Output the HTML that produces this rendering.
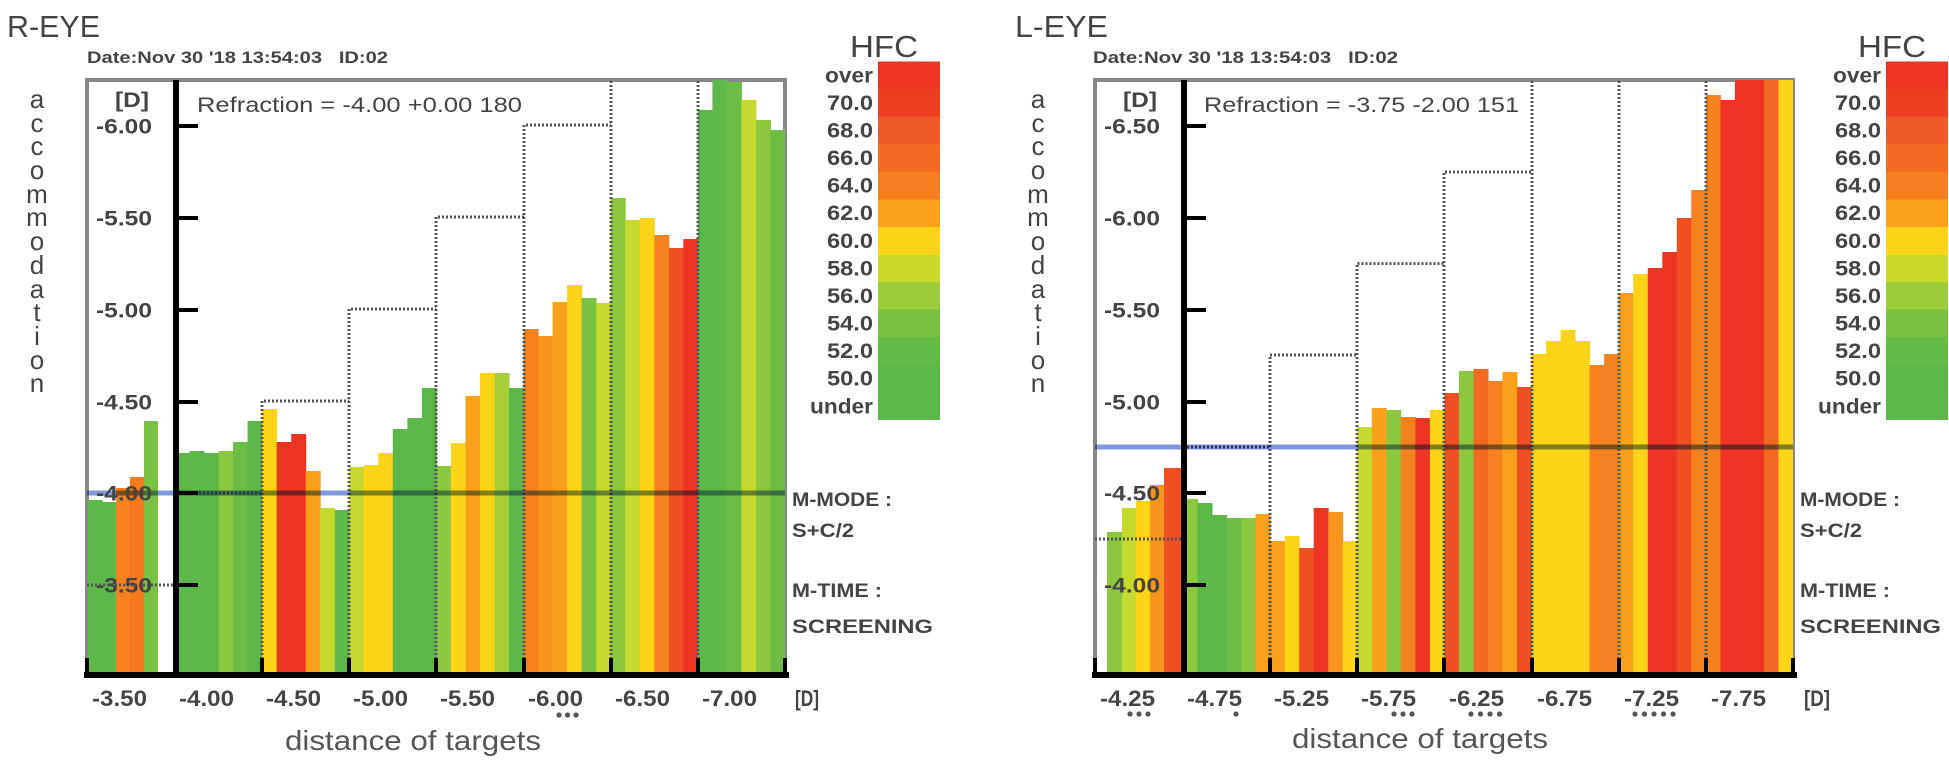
<!DOCTYPE html>
<html><head><meta charset="utf-8"><style>
html,body{margin:0;padding:0;background:#fff;}
svg{display:block;}
text{font-family:"Liberation Sans",Arial,sans-serif;fill:#444;}
.b{font-weight:bold;}
.dot{stroke:#555;stroke-width:3;stroke-dasharray:2 2;fill:none;}
.blue{stroke:#8197de;stroke-width:5;mix-blend-mode:multiply;}
</style></head><body>
<svg width="1949" height="764" viewBox="0 0 1949 764" xmlns="http://www.w3.org/2000/svg">
<rect width="1949" height="764" fill="#fff"/>

<!-- ================= R-EYE ================= -->
<g>
<text x="7" y="37" font-size="31" textLength="93" lengthAdjust="spacingAndGlyphs">R-EYE</text>
<text x="87" y="63" font-size="17" class="b" textLength="301" lengthAdjust="spacingAndGlyphs">Date:Nov 30 '18 13:54:03&#160;&#160;&#160;ID:02</text>
<g font-size="26" text-anchor="middle">
<text x="37" y="108">a</text><text x="37" y="132">c</text><text x="37" y="155">c</text><text x="37" y="179">o</text><text x="37" y="203">m</text><text x="37" y="226">m</text><text x="37" y="250">o</text><text x="37" y="274">d</text><text x="37" y="298">a</text><text x="37" y="321">t</text><text x="37" y="345">i</text><text x="37" y="369">o</text><text x="37" y="392">n</text>
</g>
<rect x="87" y="80" width="698" height="595" fill="none" stroke="#888" stroke-width="4"/>
<!-- bars -->
<rect x="88" y="500" width="14.5" height="173" fill="#5cb848"/>
<rect x="102" y="502" width="14.5" height="171" fill="#5cb848"/>
<rect x="116" y="488" width="14.5" height="185" fill="#f58220"/>
<rect x="130" y="477" width="14.5" height="196" fill="#f47a20"/>
<rect x="144" y="421" width="14" height="252" fill="#7ac143"/>

<rect x="175" y="453" width="15" height="220" fill="#5cb848"/>
<rect x="189.5" y="451" width="15" height="222" fill="#5cb848"/>
<rect x="204" y="453" width="15" height="220" fill="#5cb848"/>
<rect x="218.6" y="451" width="15" height="222" fill="#8dc63f"/>
<rect x="233.1" y="442" width="15" height="231" fill="#6cbd45"/>
<rect x="247.6" y="421" width="15" height="252" fill="#5cb848"/>

<rect x="262.1" y="409" width="15" height="264" fill="#fdd417"/>
<rect x="276.7" y="442" width="15" height="231" fill="#ee3524"/>
<rect x="291.2" y="434" width="15" height="239" fill="#ee3524"/>
<rect x="305.7" y="471" width="15" height="202" fill="#f9a11b"/>
<rect x="320.2" y="508" width="15" height="165" fill="#c5d92e"/>
<rect x="334.8" y="510" width="15" height="163" fill="#5cb848"/>

<rect x="349.3" y="467" width="15" height="206" fill="#c5d92e"/>
<rect x="363.8" y="465" width="15" height="208" fill="#fdd417"/>
<rect x="378.3" y="453" width="15" height="220" fill="#fdd417"/>
<rect x="392.8" y="429" width="15" height="244" fill="#5cb848"/>
<rect x="407.4" y="418" width="15" height="255" fill="#5cb848"/>
<rect x="421.9" y="388" width="15" height="285" fill="#5cb848"/>

<rect x="436.4" y="466" width="15" height="207" fill="#8dc63f"/>
<rect x="450.9" y="443" width="15" height="230" fill="#fdd417"/>
<rect x="465.5" y="396" width="15" height="277" fill="#f9a11b"/>
<rect x="480" y="373" width="15" height="300" fill="#fdd417"/>
<rect x="494.5" y="373" width="15" height="300" fill="#a8cf3a"/>
<rect x="509" y="388" width="15" height="285" fill="#5cb848"/>

<rect x="523.6" y="329" width="15" height="344" fill="#f58220"/>
<rect x="538.1" y="336" width="15" height="337" fill="#f7941d"/>
<rect x="552.6" y="302" width="15" height="371" fill="#f9a11b"/>
<rect x="567.1" y="285" width="15" height="388" fill="#fdd417"/>
<rect x="581.6" y="298" width="15" height="375" fill="#7ac143"/>
<rect x="596.2" y="303" width="15" height="370" fill="#c5d92e"/>

<rect x="610.7" y="198" width="15" height="475" fill="#8dc63f"/>
<rect x="625.2" y="220" width="15" height="453" fill="#c5d92e"/>
<rect x="639.8" y="218" width="15" height="455" fill="#fdd417"/>
<rect x="654.3" y="235" width="15" height="438" fill="#f58220"/>
<rect x="668.8" y="248" width="15" height="425" fill="#f04e23"/>
<rect x="683.3" y="239" width="15" height="434" fill="#ee3524"/>

<rect x="697.9" y="110" width="15" height="563" fill="#5cb848"/>
<rect x="712.4" y="80" width="15" height="593" fill="#5cb848"/>
<rect x="726.9" y="82" width="15" height="591" fill="#6cbd45"/>
<rect x="741.4" y="100" width="15" height="573" fill="#c5d92e"/>
<rect x="756" y="120" width="15" height="553" fill="#8dc63f"/>
<rect x="770.5" y="130" width="14.5" height="543" fill="#6cbd45"/>

<!-- dotted step lines -->
<path class="dot" d="M87 585H175 M175 493H262 M262 675V401H349 M349 675V309H436 M436 675V217H524 M524 675V125H611 M611 675V80 M698 675V80"/>
<!-- blue line -->
<line class="blue" x1="87" y1="493" x2="785" y2="493"/>
<!-- axes -->
<line x1="176" y1="80" x2="176" y2="678" stroke="#000" stroke-width="6"/>
<line x1="84" y1="675" x2="789" y2="675" stroke="#000" stroke-width="6"/>
<path d="M176 126H198 M176 218H198 M176 310H198 M176 402H198 M176 493H198 M176 585H198" stroke="#000" stroke-width="4"/>
<path d="M87 658V675 M262 658V675 M349 658V675 M436 658V675 M524 658V675 M611 658V675 M698 658V675 M785 658V675" stroke="#000" stroke-width="4"/>
<!-- y labels -->
<g font-size="21" class="b" text-anchor="end">
<text x="149" y="107" textLength="34" lengthAdjust="spacingAndGlyphs">[D]</text>
<text x="152" y="133.5" textLength="56" lengthAdjust="spacingAndGlyphs">-6.00</text>
<text x="152" y="225.5" textLength="56" lengthAdjust="spacingAndGlyphs">-5.50</text>
<text x="152" y="317.5" textLength="56" lengthAdjust="spacingAndGlyphs">-5.00</text>
<text x="152" y="409.5" textLength="56" lengthAdjust="spacingAndGlyphs">-4.50</text>
<text x="152" y="500.5" textLength="56" lengthAdjust="spacingAndGlyphs">-4.00</text>
<text x="152" y="592.5" textLength="56" lengthAdjust="spacingAndGlyphs">-3.50</text>
</g>
<text x="197" y="112" font-size="21" textLength="325" lengthAdjust="spacingAndGlyphs">Refraction = -4.00 +0.00 180</text>
<!-- x labels -->
<g font-size="22" class="b">
<text x="92" y="706" textLength="55" lengthAdjust="spacingAndGlyphs">-3.50</text>
<text x="179" y="706" textLength="55" lengthAdjust="spacingAndGlyphs">-4.00</text>
<text x="266" y="706" textLength="55" lengthAdjust="spacingAndGlyphs">-4.50</text>
<text x="353" y="706" textLength="55" lengthAdjust="spacingAndGlyphs">-5.00</text>
<text x="440" y="706" textLength="55" lengthAdjust="spacingAndGlyphs">-5.50</text>
<text x="528" y="706" textLength="55" lengthAdjust="spacingAndGlyphs">-6.00</text>
<text x="615" y="706" textLength="55" lengthAdjust="spacingAndGlyphs">-6.50</text>
<text x="702" y="706" textLength="55" lengthAdjust="spacingAndGlyphs">-7.00</text>
<text x="795" y="706" textLength="24" lengthAdjust="spacingAndGlyphs">[D]</text>
</g>
<g fill="#555"><circle cx="559" cy="715" r="2.6"/><circle cx="567.5" cy="715" r="2.6"/><circle cx="576" cy="715" r="2.6"/></g>
<text x="413" y="750" font-size="28" text-anchor="middle" textLength="256" lengthAdjust="spacingAndGlyphs" style="fill:#555">distance of targets</text>
<!-- legend -->
<text x="850" y="57" font-size="31" textLength="68" lengthAdjust="spacingAndGlyphs">HFC</text>
<rect x="878" y="61.5" width="62" height="28" fill="#ee3524"/>
<rect x="878" y="89.1" width="62" height="28" fill="#ef3f23"/>
<rect x="878" y="116.7" width="62" height="28" fill="#f05a28"/>
<rect x="878" y="144.2" width="62" height="28" fill="#f26a21"/>
<rect x="878" y="171.8" width="62" height="28" fill="#f47f20"/>
<rect x="878" y="199.4" width="62" height="28" fill="#f9a11b"/>
<rect x="878" y="227" width="62" height="28" fill="#fdd417"/>
<rect x="878" y="254.6" width="62" height="28" fill="#cbdb2a"/>
<rect x="878" y="282.1" width="62" height="28" fill="#9ccb3b"/>
<rect x="878" y="309.7" width="62" height="28" fill="#7ac143"/>
<rect x="878" y="337.3" width="62" height="28" fill="#62bb46"/>
<rect x="878" y="364.9" width="62" height="28" fill="#5ab946"/>
<rect x="878" y="392.5" width="62" height="27.5" fill="#5cb848"/>
<g font-size="21" class="b" text-anchor="end">
<text x="873" y="82.3" textLength="48" lengthAdjust="spacingAndGlyphs">over</text>
<text x="873" y="109.9" textLength="46" lengthAdjust="spacingAndGlyphs">70.0</text>
<text x="873" y="137.5" textLength="46" lengthAdjust="spacingAndGlyphs">68.0</text>
<text x="873" y="165" textLength="46" lengthAdjust="spacingAndGlyphs">66.0</text>
<text x="873" y="192.6" textLength="46" lengthAdjust="spacingAndGlyphs">64.0</text>
<text x="873" y="220.2" textLength="46" lengthAdjust="spacingAndGlyphs">62.0</text>
<text x="873" y="247.8" textLength="46" lengthAdjust="spacingAndGlyphs">60.0</text>
<text x="873" y="275.4" textLength="46" lengthAdjust="spacingAndGlyphs">58.0</text>
<text x="873" y="302.9" textLength="46" lengthAdjust="spacingAndGlyphs">56.0</text>
<text x="873" y="330.5" textLength="46" lengthAdjust="spacingAndGlyphs">54.0</text>
<text x="873" y="358.1" textLength="46" lengthAdjust="spacingAndGlyphs">52.0</text>
<text x="873" y="385.7" textLength="46" lengthAdjust="spacingAndGlyphs">50.0</text>
<text x="873" y="413.3" textLength="63" lengthAdjust="spacingAndGlyphs">under</text>
</g>
<g font-size="19" class="b">
<text x="792" y="506" textLength="100" lengthAdjust="spacingAndGlyphs">M-MODE :</text>
<text x="792" y="537" textLength="62" lengthAdjust="spacingAndGlyphs">S+C/2</text>
<text x="792" y="597" textLength="90" lengthAdjust="spacingAndGlyphs">M-TIME :</text>
<text x="792" y="633" textLength="141" lengthAdjust="spacingAndGlyphs">SCREENING</text>
</g>
</g>

<!-- ================= L-EYE ================= -->
<g transform="translate(1008,0)">
<text x="7" y="37" font-size="31" textLength="93" lengthAdjust="spacingAndGlyphs">L-EYE</text>
<text x="85" y="63" font-size="17" class="b" textLength="305" lengthAdjust="spacingAndGlyphs">Date:Nov 30 '18 13:54:03&#160;&#160;&#160;ID:02</text>
<g font-size="26" text-anchor="middle">
<text x="30" y="108">a</text><text x="30" y="132">c</text><text x="30" y="155">c</text><text x="30" y="179">o</text><text x="30" y="203">m</text><text x="30" y="226">m</text><text x="30" y="250">o</text><text x="30" y="274">d</text><text x="30" y="298">a</text><text x="30" y="321">t</text><text x="30" y="345">i</text><text x="30" y="369">o</text><text x="30" y="392">n</text>
</g>
<rect x="87" y="80" width="698" height="595" fill="none" stroke="#888" stroke-width="4"/>
<!-- bars -->
<rect x="99" y="532" width="15.5" height="141" fill="#8dc63f"/>
<rect x="114" y="508" width="14.5" height="165" fill="#c5d92e"/>
<rect x="128" y="501" width="14.5" height="172" fill="#fdd417"/>
<rect x="142" y="485" width="14.5" height="188" fill="#f7941d"/>
<rect x="156" y="468" width="17" height="205" fill="#f04e23"/>

<rect x="175" y="499" width="15" height="174" fill="#8dc63f"/>
<rect x="189.5" y="503" width="15" height="170" fill="#5cb848"/>
<rect x="204" y="515" width="15" height="158" fill="#5cb848"/>
<rect x="218.6" y="518" width="15" height="155" fill="#6cbd45"/>
<rect x="233.1" y="518" width="15" height="155" fill="#8dc63f"/>
<rect x="247.6" y="514" width="15" height="159" fill="#f9a11b"/>

<rect x="262.1" y="541" width="15" height="132" fill="#f9a11b"/>
<rect x="276.7" y="536" width="15" height="137" fill="#fdd417"/>
<rect x="291.2" y="548" width="15" height="125" fill="#f04e23"/>
<rect x="305.7" y="508" width="15" height="165" fill="#ee3524"/>
<rect x="320.2" y="512" width="15" height="161" fill="#f7941d"/>
<rect x="334.8" y="541" width="15" height="132" fill="#fdd417"/>

<rect x="349.3" y="427" width="15" height="246" fill="#c5d92e"/>
<rect x="363.8" y="408" width="15" height="265" fill="#f9a11b"/>
<rect x="378.3" y="410" width="15" height="263" fill="#8dc63f"/>
<rect x="392.8" y="417" width="15" height="256" fill="#f58220"/>
<rect x="407.4" y="418" width="15" height="255" fill="#ee3524"/>
<rect x="421.9" y="410" width="15" height="263" fill="#fdd417"/>

<rect x="436.4" y="393" width="15" height="280" fill="#f04e23"/>
<rect x="450.9" y="371" width="15" height="302" fill="#8dc63f"/>
<rect x="465.5" y="369" width="15" height="304" fill="#f26a21"/>
<rect x="480" y="381" width="15" height="292" fill="#f58220"/>
<rect x="494.5" y="372" width="15" height="301" fill="#f9a11b"/>
<rect x="509" y="387" width="15" height="286" fill="#f04e23"/>

<rect x="523.6" y="354" width="15" height="319" fill="#fdd417"/>
<rect x="538.1" y="341" width="15" height="332" fill="#fdd417"/>
<rect x="552.6" y="330" width="15" height="343" fill="#fdd417"/>
<rect x="567.1" y="341" width="15" height="332" fill="#fdd417"/>
<rect x="581.6" y="365" width="15" height="308" fill="#f58220"/>
<rect x="596.2" y="354" width="15" height="319" fill="#f58220"/>

<rect x="610.7" y="293" width="15" height="380" fill="#f9a11b"/>
<rect x="625.2" y="274" width="15" height="399" fill="#fdd417"/>
<rect x="639.8" y="268" width="15" height="405" fill="#ee3524"/>
<rect x="654.3" y="252" width="15" height="421" fill="#ee3524"/>
<rect x="668.8" y="218" width="15" height="455" fill="#f04e23"/>
<rect x="683.3" y="190" width="15" height="483" fill="#f58220"/>

<rect x="697.9" y="95" width="15" height="578" fill="#f58220"/>
<rect x="712.4" y="100" width="15" height="573" fill="#ee3524"/>
<rect x="726.9" y="80" width="15" height="593" fill="#ee3524"/>
<rect x="741.4" y="80" width="15" height="593" fill="#ee3524"/>
<rect x="756" y="80" width="15" height="593" fill="#f26a21"/>
<rect x="770.5" y="80" width="14.5" height="593" fill="#fdd417"/>

<path class="dot" d="M87 539H175 M175 447H262 M262 675V355H349 M349 675V263.5H436 M436 675V172H524 M524 675V80 M611 675V80 M698 675V80"/>
<line class="blue" x1="87" y1="447" x2="785" y2="447"/>
<line x1="176" y1="80" x2="176" y2="678" stroke="#000" stroke-width="6"/>
<line x1="84" y1="675" x2="789" y2="675" stroke="#000" stroke-width="6"/>
<path d="M176 126H198 M176 218H198 M176 310H198 M176 402H198 M176 493H198 M176 585H198" stroke="#000" stroke-width="4"/>
<path d="M87 658V675 M262 658V675 M349 658V675 M436 658V675 M524 658V675 M611 658V675 M698 658V675 M785 658V675" stroke="#000" stroke-width="4"/>
<g font-size="21" class="b" text-anchor="end">
<text x="149" y="107" textLength="34" lengthAdjust="spacingAndGlyphs">[D]</text>
<text x="152" y="133.5" textLength="56" lengthAdjust="spacingAndGlyphs">-6.50</text>
<text x="152" y="225.5" textLength="56" lengthAdjust="spacingAndGlyphs">-6.00</text>
<text x="152" y="317.5" textLength="56" lengthAdjust="spacingAndGlyphs">-5.50</text>
<text x="152" y="409.5" textLength="56" lengthAdjust="spacingAndGlyphs">-5.00</text>
<text x="152" y="500.5" textLength="56" lengthAdjust="spacingAndGlyphs">-4.50</text>
<text x="152" y="592.5" textLength="56" lengthAdjust="spacingAndGlyphs">-4.00</text>
</g>
<text x="196" y="112" font-size="21" textLength="315" lengthAdjust="spacingAndGlyphs">Refraction = -3.75 -2.00 151</text>
<g font-size="22" class="b">
<text x="92" y="706" textLength="55" lengthAdjust="spacingAndGlyphs">-4.25</text>
<text x="179" y="706" textLength="55" lengthAdjust="spacingAndGlyphs">-4.75</text>
<text x="266" y="706" textLength="55" lengthAdjust="spacingAndGlyphs">-5.25</text>
<text x="353" y="706" textLength="55" lengthAdjust="spacingAndGlyphs">-5.75</text>
<text x="441" y="706" textLength="55" lengthAdjust="spacingAndGlyphs">-6.25</text>
<text x="529" y="706" textLength="55" lengthAdjust="spacingAndGlyphs">-6.75</text>
<text x="616" y="706" textLength="55" lengthAdjust="spacingAndGlyphs">-7.25</text>
<text x="703" y="706" textLength="55" lengthAdjust="spacingAndGlyphs">-7.75</text>
<text x="796" y="706" textLength="26" lengthAdjust="spacingAndGlyphs">[D]</text>
</g>
<g fill="#555">
<circle cx="122" cy="714" r="2.6"/><circle cx="131" cy="714" r="2.6"/><circle cx="140" cy="714" r="2.6"/>
<circle cx="228" cy="714" r="2.6"/>
<circle cx="386" cy="714" r="2.6"/><circle cx="395" cy="714" r="2.6"/><circle cx="404" cy="714" r="2.6"/>
<circle cx="463" cy="714" r="2.6"/><circle cx="472.5" cy="714" r="2.6"/><circle cx="482" cy="714" r="2.6"/><circle cx="491.5" cy="714" r="2.6"/>
<circle cx="627" cy="714" r="2.6"/><circle cx="636.5" cy="714" r="2.6"/><circle cx="646" cy="714" r="2.6"/><circle cx="655.5" cy="714" r="2.6"/><circle cx="665" cy="714" r="2.6"/>
</g>
<text x="412" y="748" font-size="28" text-anchor="middle" textLength="256" lengthAdjust="spacingAndGlyphs" style="fill:#555">distance of targets</text>
<text x="850" y="57" font-size="31" textLength="68" lengthAdjust="spacingAndGlyphs">HFC</text>
<rect x="878" y="61.5" width="62" height="28" fill="#ee3524"/>
<rect x="878" y="89.1" width="62" height="28" fill="#ef3f23"/>
<rect x="878" y="116.7" width="62" height="28" fill="#f05a28"/>
<rect x="878" y="144.2" width="62" height="28" fill="#f26a21"/>
<rect x="878" y="171.8" width="62" height="28" fill="#f47f20"/>
<rect x="878" y="199.4" width="62" height="28" fill="#f9a11b"/>
<rect x="878" y="227" width="62" height="28" fill="#fdd417"/>
<rect x="878" y="254.6" width="62" height="28" fill="#cbdb2a"/>
<rect x="878" y="282.1" width="62" height="28" fill="#9ccb3b"/>
<rect x="878" y="309.7" width="62" height="28" fill="#7ac143"/>
<rect x="878" y="337.3" width="62" height="28" fill="#62bb46"/>
<rect x="878" y="364.9" width="62" height="28" fill="#5ab946"/>
<rect x="878" y="392.5" width="62" height="27.5" fill="#5cb848"/>
<g font-size="21" class="b" text-anchor="end">
<text x="873" y="82.3" textLength="48" lengthAdjust="spacingAndGlyphs">over</text>
<text x="873" y="109.9" textLength="46" lengthAdjust="spacingAndGlyphs">70.0</text>
<text x="873" y="137.5" textLength="46" lengthAdjust="spacingAndGlyphs">68.0</text>
<text x="873" y="165" textLength="46" lengthAdjust="spacingAndGlyphs">66.0</text>
<text x="873" y="192.6" textLength="46" lengthAdjust="spacingAndGlyphs">64.0</text>
<text x="873" y="220.2" textLength="46" lengthAdjust="spacingAndGlyphs">62.0</text>
<text x="873" y="247.8" textLength="46" lengthAdjust="spacingAndGlyphs">60.0</text>
<text x="873" y="275.4" textLength="46" lengthAdjust="spacingAndGlyphs">58.0</text>
<text x="873" y="302.9" textLength="46" lengthAdjust="spacingAndGlyphs">56.0</text>
<text x="873" y="330.5" textLength="46" lengthAdjust="spacingAndGlyphs">54.0</text>
<text x="873" y="358.1" textLength="46" lengthAdjust="spacingAndGlyphs">52.0</text>
<text x="873" y="385.7" textLength="46" lengthAdjust="spacingAndGlyphs">50.0</text>
<text x="873" y="413.3" textLength="63" lengthAdjust="spacingAndGlyphs">under</text>
</g>
<g font-size="19" class="b">
<text x="792" y="506" textLength="100" lengthAdjust="spacingAndGlyphs">M-MODE :</text>
<text x="792" y="537" textLength="62" lengthAdjust="spacingAndGlyphs">S+C/2</text>
<text x="792" y="597" textLength="90" lengthAdjust="spacingAndGlyphs">M-TIME :</text>
<text x="792" y="633" textLength="141" lengthAdjust="spacingAndGlyphs">SCREENING</text>
</g>
</g>
</svg>
</body></html>
